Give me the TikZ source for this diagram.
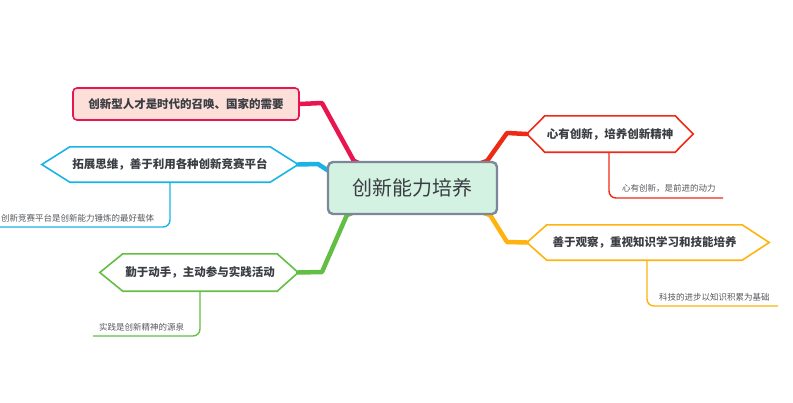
\documentclass[tikz,border=0pt]{standalone}
\usepackage{fontspec}
\setmainfont{Noto Sans CJK SC}
\usetikzlibrary{calc}
\pgfdeclarelayer{background}
\pgfsetlayers{background,main}
\definecolor{txt}{HTML}{3A3D42}
\definecolor{subtxt}{HTML}{55585C}
\definecolor{cpink}{HTML}{E8154F}
\definecolor{fpink}{HTML}{FDDFDA}
\definecolor{cblue}{HTML}{19B3E6}
\definecolor{cgreen}{HTML}{63BF44}
\definecolor{cred}{HTML}{EE2A17}
\definecolor{corange}{HTML}{FFB30F}
\definecolor{fcenter}{HTML}{D3F2E2}
\definecolor{bcenter}{HTML}{7D879A}
\begin{document}
\begin{tikzpicture}[x=1pt,y=-1pt,
  mainbox/.style={inner sep=0pt,text=txt,font=\fontsize{11.5}{13}\selectfont\bfseries},
  subtext/.style={inner sep=0pt,text=subtxt,font=\fontsize{8.5}{10}\selectfont,anchor=west},
  branch/.style={line width=4.5pt,line join=round,line cap=round},
  twig/.style={line width=1.4pt,rounded corners=7pt},
  hexline/.style={line width=1.6pt,line join=miter}]
\useasboundingbox (0,0) rectangle (793,402);

% central node
\node[draw=bcenter,fill=fcenter,line width=2.4pt,rounded corners=5pt,
      minimum width=169pt,minimum height=52pt,inner sep=0pt,text=txt,
      font=\fontsize{20}{24}\selectfont] (c) at (412.5,188) {创新能力培养};

% pink box
\node[draw=cpink,fill=fpink,line width=1.6pt,rounded corners=4pt,
      minimum width=226pt,minimum height=32pt,mainbox] (p) at (186,104) {创新型人才是时代的召唤、国家的需要};

% blue hexagon
\node[mainbox,minimum width=200pt,minimum height=35pt] (b) at (170,164.5) {拓展思维，善于利用各种创新竞赛平台};
\draw[cblue,hexline] (b.north west) -- (b.north east) -- ($(b.east)+(28,0)$) -- (b.south east) -- (b.south west) -- ($(b.west)+(-28,0)$) -- cycle;

% green hexagon
\node[mainbox,minimum width=154pt,minimum height=37pt] (g) at (200,272.5) {勤于动手，主动参与实践活动};
\draw[cgreen,hexline] (g.north west) -- (g.north east) -- ($(g.east)+(21,0)$) -- (g.south east) -- (g.south west) -- ($(g.west)+(-23,0)$) -- cycle;

% red hexagon
\node[mainbox,minimum width=130pt,minimum height=36pt] (r) at (610,134) {心有创新，培养创新精神};
\draw[cred,hexline] (r.north west) -- (r.north east) -- ($(r.east)+(18,0)$) -- (r.south east) -- (r.south west) -- ($(r.west)+(-18,0)$) -- cycle;

% orange hexagon
\node[mainbox,minimum width=195pt,minimum height=35pt] (o) at (644.5,242.5) {善于观察，重视知识学习和技能培养};
\draw[corange,hexline] (o.north west) -- (o.north east) -- ($(o.east)+(27,0)$) -- (o.south east) -- (o.south west) -- ($(o.west)+(-20,0)$) -- cycle;

% connector end points
\coordinate (pE) at (p.east);
\coordinate (bE) at ($(b.east)+(28,0)$);
\coordinate (gE) at ($(g.east)+(21,0)$);
\coordinate (rW) at ($(r.west)+(-18,0)$);
\coordinate (oW) at ($(o.west)+(-20,0)$);

\begin{pgfonlayer}{background}
\draw[cpink,branch] (c.center) -- ($(c.north west)+(27,0)$) -- (322,103) -- (pE);
\draw[cblue,branch] (c.center) -- ($(c.west)+(5,-15)$) -- (318,164) -- (bE);
\draw[cgreen,branch] (c.center) -- ($(c.south west)+(20,0)$) -- (322,272) -- (gE);
\draw[cred,branch] (c.center) -- ($(c.north east)+(-11,0)$) -- (507,133) -- (rW);
\draw[corange,branch] (c.center) -- ($(c.south east)+(-8,0)$) -- (507,242) -- (oW);
\end{pgfonlayer}

% sub-topics
\coordinate (bT) at (0,227);
\coordinate (gT) at (93,336);
\coordinate (rT) at (723,198);
\coordinate (oT) at (778,306);
\coordinate (rS) at (609,152);
\coordinate (oS) at (647,260);
\draw[cblue,twig] (b.south) -- (b.south |- bT) -- (bT);
\draw[cgreen,twig] (g.south) -- (g.south |- gT) -- (gT);
\draw[cred,twig] (rS) -- (rS |- rT) -- (rT);
\draw[corange,twig] (oS) -- (oS |- oT) -- (oT);
\node[subtext] (bs) at (1,218) {创新竞赛平台是创新能力锤炼的最好载体};
\node[subtext] (gs) at (99,327) {实践是创新精神的源泉};
\node[subtext] (rs) at (622,188) {心有创新，是前进的动力};
\node[subtext] (os) at (659,297) {科技的进步以知识积累为基础};
\end{tikzpicture}
\end{document}
